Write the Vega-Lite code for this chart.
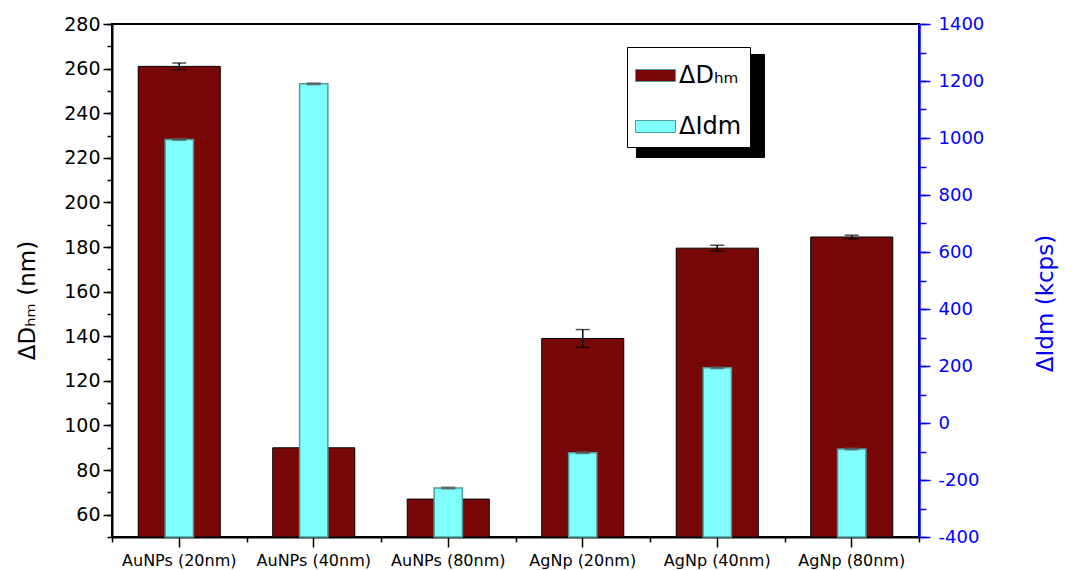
{
  "$schema": "https://vega.github.io/schema/vega-lite/v6.json",
  "width": 807,
  "height": 513,
  "autosize": "none",
  "padding": {"left": 112, "top": 24, "right": 156, "bottom": 33},
  "background": "white",
  "config": {
    "view": {"stroke": "black", "strokeWidth": 2},
    "font": "DejaVu Sans",
    "axis": {"labelFont": "DejaVu Sans", "titleFont": "DejaVu Sans", "titleFontWeight": "normal", "grid": false}
  },
  "data": {
    "values": [
      {"cat": "AuNPs (20nm)", "D": 261, "Dlo": 259.5, "Dhi": 262.5, "I": 995, "Ilo": 993, "Ihi": 997},
      {"cat": "AuNPs (40nm)", "D": 90, "Dlo": null, "Dhi": null, "I": 1190, "Ilo": 1188, "Ihi": 1192},
      {"cat": "AuNPs (80nm)", "D": 67, "Dlo": null, "Dhi": null, "I": -228, "Ilo": -230, "Ihi": -226},
      {"cat": "AgNp (20nm)", "D": 139, "Dlo": 135, "Dhi": 143, "I": -104, "Ilo": -106, "Ihi": -102},
      {"cat": "AgNp (40nm)", "D": 179.5, "Dlo": 178.2, "Dhi": 180.8, "I": 194, "Ilo": 192, "Ihi": 196},
      {"cat": "AgNp (80nm)", "D": 184.5, "Dlo": 183.6, "Dhi": 185.3, "I": -91, "Ilo": -93, "Ihi": -89}
    ]
  },
  "layer": [
    {
      "mark": {"type": "bar", "width": {"band": 0.61}, "stroke": "black", "strokeWidth": 1},
      "encoding": {
        "x": {
          "field": "cat", "type": "nominal", "sort": null,
          "scale": {"domain": ["AuNPs (20nm)", "AuNPs (40nm)", "AuNPs (80nm)", "AgNp (20nm)", "AgNp (40nm)", "AgNp (80nm)"], "paddingInner": 0, "paddingOuter": 0},
          "axis": {"orient": "bottom", "title": null, "labelAngle": 0, "labelFontSize": 16, "labelColor": "black", "labelPadding": 5, "tickSize": 10, "tickWidth": 1.5, "tickColor": "black", "domainColor": "black", "domainWidth": 2}
        },
        "y": {
          "field": "D", "type": "quantitative",
          "scale": {"domain": [50, 280], "zero": false, "nice": false},
          "axis": {
            "orient": "left", "values": [60, 80, 100, 120, 140, 160, 180, 200, 220, 240, 260, 280],
            "tickSize": 9, "tickWidth": 1.5, "tickColor": "black", "domainColor": "black", "domainWidth": 2,
            "labelFontSize": 19, "labelColor": "black", "labelPadding": 3,
            "title": "ΔDₕₘ (nm)", "titleFontSize": 23, "titleColor": "black", "titleAngle": 270,
            "titleX": -85, "titleY": 276, "titleAlign": "center", "titleBaseline": "middle"
          }
        },
        "y2": {"datum": 50},
        "color": {
          "datum": "ΔDₕₘ", "type": "nominal",
          "scale": {"domain": ["ΔDₕₘ", "ΔIdm"], "range": ["#780808", "#80ffff"]},
          "legend": {
            "orient": "none", "legendX": 515, "legendY": 23, "title": null,
            "symbolType": "M-1,-0.3H1V0.3H-1Z", "symbolSize": 1600, "symbolStrokeColor": "#333", "symbolStrokeWidth": 1,
            "labelFont": "DejaVu Sans", "labelFontSize": 24, "labelColor": "black", "labelOffset": 3,
            "rowPadding": 18, "padding": 8, "strokeColor": "black", "fillColor": "white", "zindex": 2
          }
        },
        "opacity": {
          "datum": "s1", "type": "ordinal",
          "scale": {"domain": ["s1"], "range": [1]},
          "legend": {
            "orient": "none", "legendX": 524, "legendY": 30, "title": null,
            "labelExpr": "''", "labelOffset": 0,
            "symbolType": "M-1,-0.2H1V0.2H-1Z", "symbolSize": 3807,
            "rowPadding": 0, "padding": 30.6, "strokeColor": "black", "fillColor": "black", "zindex": 1
          }
        }
      }
    },
    {
      "mark": {"type": "rule", "color": "black", "strokeWidth": 1.5},
      "encoding": {
        "x": {
          "field": "cat", "type": "nominal", "sort": null,
          "scale": {"domain": ["AuNPs (20nm)", "AuNPs (40nm)", "AuNPs (80nm)", "AgNp (20nm)", "AgNp (40nm)", "AgNp (80nm)"], "paddingInner": 0, "paddingOuter": 0},
          "axis": {"orient": "bottom", "title": null, "labels": false, "domain": false, "tickBand": "extent", "tickSize": 5, "tickWidth": 1.5, "tickColor": "black"}
        },
        "y": {
          "field": "Dlo", "type": "quantitative",
          "scale": {"domain": [50, 280], "zero": false, "nice": false},
          "axis": {
            "orient": "left", "values": [50, 60, 70, 80, 90, 100, 110, 120, 130, 140, 150, 160, 170, 180, 190, 200, 210, 220, 230, 240, 250, 260, 270, 280],
            "tickSize": 5, "tickWidth": 1.5, "tickColor": "black", "domain": false, "labels": false, "title": null
          }
        },
        "y2": {"field": "Dhi"}
      }
    },
    {
      "mark": {"type": "tick", "color": "black", "thickness": 1.5, "size": 14},
      "encoding": {
        "x": {"field": "cat", "type": "nominal", "sort": null,
          "scale": {"domain": ["AuNPs (20nm)", "AuNPs (40nm)", "AuNPs (80nm)", "AgNp (20nm)", "AgNp (40nm)", "AgNp (80nm)"], "paddingInner": 0, "paddingOuter": 0}, "axis": null},
        "y": {"field": "Dhi", "type": "quantitative", "scale": {"domain": [50, 280], "zero": false, "nice": false}, "axis": null}
      }
    },
    {
      "mark": {"type": "tick", "color": "black", "thickness": 1.5, "size": 14},
      "encoding": {
        "x": {"field": "cat", "type": "nominal", "sort": null,
          "scale": {"domain": ["AuNPs (20nm)", "AuNPs (40nm)", "AuNPs (80nm)", "AgNp (20nm)", "AgNp (40nm)", "AgNp (80nm)"], "paddingInner": 0, "paddingOuter": 0}, "axis": null},
        "y": {"field": "Dlo", "type": "quantitative", "scale": {"domain": [50, 280], "zero": false, "nice": false}, "axis": null}
      }
    },
    {
      "mark": {"type": "bar", "width": {"band": 0.21}, "stroke": "#4f9a9a", "strokeWidth": 1.5},
      "encoding": {
        "x": {"field": "cat", "type": "nominal", "sort": null,
          "scale": {"domain": ["AuNPs (20nm)", "AuNPs (40nm)", "AuNPs (80nm)", "AgNp (20nm)", "AgNp (40nm)", "AgNp (80nm)"], "paddingInner": 0, "paddingOuter": 0}, "axis": null},
        "y": {
          "field": "I", "type": "quantitative",
          "scale": {"domain": [-400, 1400], "zero": false, "nice": false},
          "axis": {
            "orient": "right", "values": [-400, -200, 0, 200, 400, 600, 800, 1000, 1200, 1400],
            "labelExpr": "'' + datum.value",
            "tickSize": 11, "tickWidth": 1.5, "tickColor": "#0000ff", "domainColor": "#0000ff", "domainWidth": 2.5,
            "labelFontSize": 18, "labelColor": "#0000ff", "labelPadding": 8,
            "title": "ΔIdm (kcps)", "titleFontSize": 23, "titleColor": "#0000ff", "titleAngle": 270,
            "titleX": 126, "titleY": 279, "titleAlign": "center", "titleBaseline": "middle"
          }
        },
        "y2": {"datum": -400},
        "color": {"datum": "ΔIdm", "type": "nominal"}
      }
    },
    {
      "mark": {"type": "tick", "color": "#555555", "thickness": 2, "size": 14},
      "encoding": {
        "x": {"field": "cat", "type": "nominal", "sort": null,
          "scale": {"domain": ["AuNPs (20nm)", "AuNPs (40nm)", "AuNPs (80nm)", "AgNp (20nm)", "AgNp (40nm)", "AgNp (80nm)"], "paddingInner": 0, "paddingOuter": 0}, "axis": null},
        "y": {
          "field": "Ihi", "type": "quantitative",
          "scale": {"domain": [-400, 1400], "zero": false, "nice": false},
          "axis": {
            "orient": "right", "values": [-400, -300, -200, -100, 0, 100, 200, 300, 400, 500, 600, 700, 800, 900, 1000, 1100, 1200, 1300, 1400],
            "tickSize": 7, "tickWidth": 1.5, "tickColor": "#0000ff", "domain": false, "labels": false, "title": null
          }
        }
      }
    },
    {
      "mark": {"type": "tick", "color": "#555555", "thickness": 2, "size": 14},
      "encoding": {
        "x": {"field": "cat", "type": "nominal", "sort": null,
          "scale": {"domain": ["AuNPs (20nm)", "AuNPs (40nm)", "AuNPs (80nm)", "AgNp (20nm)", "AgNp (40nm)", "AgNp (80nm)"], "paddingInner": 0, "paddingOuter": 0}, "axis": null},
        "y": {"field": "Ilo", "type": "quantitative", "scale": {"domain": [-400, 1400], "zero": false, "nice": false}, "axis": null}
      }
    }
  ],
  "resolve": {
    "scale": {"x": "independent", "y": "independent"},
    "axis": {"x": "independent", "y": "independent"}
  }
}
